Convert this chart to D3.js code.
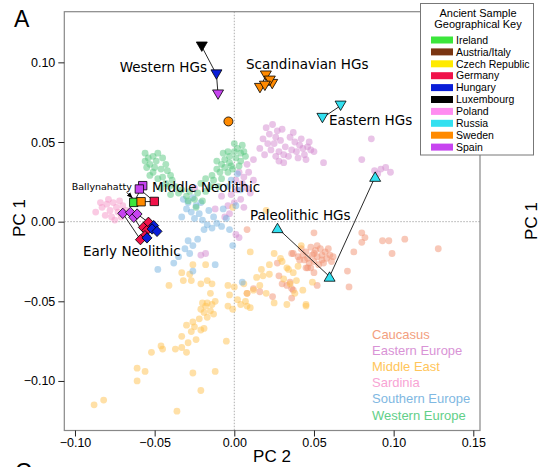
<!DOCTYPE html>
<html><head><meta charset="utf-8">
<script src="https://cdn.jsdelivr.net/npm/d3@7/dist/d3.min.js"></script>
<style>html,body{margin:0;padding:0;background:#fff;} svg{display:block;}</style>
</head><body>
<svg id="chart" width="538" height="467"></svg>
<script>
// ---------------- DATA ----------------
// modern populations: [PC2, PC1]
const caucasus = [[0.042,-0.017],[0.045,-0.019],[0.048,-0.016],[0.051,-0.018],[0.054,-0.017],[0.057,-0.019],[0.060,-0.021],[0.043,-0.021],[0.046,-0.023],[0.049,-0.021],[0.052,-0.022],[0.055,-0.024],[0.058,-0.023],[0.061,-0.025],[0.047,-0.026],[0.050,-0.025],[0.053,-0.027],[0.056,-0.026],[0.044,-0.024],[0.040,-0.022],[0.050,-0.020],[0.059,-0.017],[0.052,-0.015],[0.055,-0.021],[0.048,-0.029],[0.062,-0.022],
[0.050,-0.007],[0.080,-0.007],[0.082,-0.010],[0.080,-0.013],[0.093,-0.012],[0.097,-0.012],[0.107,-0.011],[0.099,-0.020],[0.128,-0.017],[0.075,-0.019],[0.071,-0.031],[0.072,-0.041],[0.052,-0.040],[0.050,-0.032],[0.046,-0.029],[0.036,-0.048],[0.033,-0.040],[0.036,-0.042],[0.036,-0.020],[0.041,-0.024],[0.008,-0.005],[0.027,-0.026],[0.037,-0.020],[0.012,-0.042],[0.008,-0.045],[0.030,-0.039],[0.045,-0.029],[0.035,-0.038],[0.037,-0.043],[0.024,-0.047],[0.016,-0.044],[0.028,-0.034]];
const easternEurope = [[0.020,0.059],[0.024,0.061],[0.027,0.057],[0.022,0.055],[0.026,0.053],[0.030,0.058],[0.018,0.052],[0.021,0.049],[0.025,0.049],[0.029,0.051],[0.016,0.046],[0.023,0.045],[0.028,0.044],[0.032,0.047],[0.019,0.042],[0.026,0.041],[0.031,0.042],
[0.035,0.053],[0.038,0.050],[0.041,0.048],[0.036,0.045],[0.039,0.044],[0.043,0.046],[0.046,0.047],[0.044,0.042],[0.040,0.040],[0.048,0.045],[0.037,0.056],[0.042,0.052],[0.034,0.041],[0.047,0.050],[0.031,0.037],[0.045,0.039],[0.028,0.038],[0.050,0.044],
[0.056,0.037],[0.080,0.039],[0.086,0.052],[0.088,0.032],[0.092,0.033],[0.095,0.034],[0.098,0.031],[0.090,0.030],[0.012,0.039],[0.008,0.036],
[0.003,0.031],[0.006,0.028],[0.001,0.026],[0.005,0.024],[0.008,0.021],[0.002,0.020],[-0.002,0.017],[0.004,0.014],[0.000,0.012],[-0.004,0.010],[0.006,0.009],[0.010,0.018],[0.012,0.026],[-0.003,0.005],[0.001,-0.008],[0.003,-0.010],[-0.006,0.003],[-0.008,0.016],[-0.025,0.021],[-0.012,0.008],[0.009,0.031],[-0.021,-0.021],[-0.018,-0.020]];
const middleEast = [[-0.088,-0.115],[-0.082,-0.112],[-0.061,-0.092],[-0.056,-0.094],[-0.061,-0.100],[-0.052,-0.082],[-0.046,-0.078],[-0.045,-0.080],[-0.037,-0.080],[-0.033,-0.079],[-0.030,-0.082],[-0.036,-0.119],[-0.026,-0.095],[-0.021,-0.106],[-0.012,-0.094],[-0.005,-0.075],
[-0.029,-0.076],[-0.024,-0.074],[-0.033,-0.072],[-0.027,-0.069],[-0.021,-0.068],[-0.019,-0.067],[-0.030,-0.065],[-0.026,-0.063],[-0.022,-0.061],[-0.017,-0.060],[-0.019,-0.057],[-0.015,-0.056],[-0.021,-0.055],[-0.018,-0.053],[-0.014,-0.052],[-0.017,-0.051],[-0.012,-0.050],[-0.020,-0.051],[-0.013,-0.058],[-0.025,-0.066],
[-0.041,-0.040],[-0.033,-0.032],[-0.028,-0.033],[-0.032,-0.037],[-0.027,-0.037],[-0.021,-0.039],[-0.018,-0.027],[-0.014,-0.039],[-0.017,-0.037],[-0.015,-0.045],[-0.026,-0.027],
[-0.004,-0.053],[-0.001,-0.055],[0.004,-0.052],[0.008,-0.053],[0.010,-0.054],[0.007,-0.050],[0.002,-0.049],[-0.003,-0.046],[-0.004,-0.040],[0.000,-0.041],[0.006,-0.039],[0.008,-0.045],[0.012,-0.043],[0.016,-0.040],[0.014,-0.035],[0.018,-0.034],[0.022,-0.033],[0.017,-0.030],[0.022,-0.027],[0.029,-0.023],[0.025,-0.020],[0.033,-0.029],[0.037,-0.032],[0.039,-0.037],[0.035,-0.039],[0.045,-0.052],[0.020,-0.045],[0.025,-0.051],[0.033,-0.052],[0.010,-0.019],
[0.030,-0.025],[0.034,-0.030],[0.038,-0.045],[0.049,-0.038],[0.043,-0.043],[0.045,-0.053],[0.042,-0.015],[0.031,-0.036],[0.040,-0.028],[0.020,0.007],[-0.001,0.009]];
const sardinia = [[-0.087,0.006],[-0.083,0.009],[-0.080,0.011],[-0.078,0.007],[-0.076,0.012],[-0.074,0.009],[-0.081,0.004],[-0.077,0.003],[-0.073,0.006],[-0.072,0.013],[-0.079,0.014],[-0.075,0.001],[-0.070,0.010],[-0.084,0.012],[-0.068,0.007],[-0.071,0.003]];
const southernEurope = [[-0.032,0.014],[-0.029,0.012],[-0.026,0.015],[-0.030,0.008],[-0.027,0.006],[-0.024,0.010],[-0.021,0.012],[-0.022,0.005],[-0.025,0.002],[-0.020,0.001],[-0.017,-0.002],[-0.014,-0.004],[-0.011,-0.001],[-0.008,-0.003],[-0.005,0.002],[-0.019,-0.005],[-0.013,0.003],[-0.003,-0.005],[-0.029,-0.012],[-0.026,-0.015],[-0.023,-0.011],[-0.031,-0.017],[-0.028,-0.020],[-0.035,-0.022],[-0.038,-0.026],[-0.048,-0.030],[-0.026,-0.031],[-0.012,-0.027],[0.005,-0.038],[-0.002,0.026],[0.002,0.030],[-0.004,0.022],[0.004,0.020],[0.001,0.010],[-0.001,-0.015],[-0.007,0.008],[-0.016,0.007],[-0.033,0.003]];
const westernEurope = [[-0.056,0.043],[-0.054,0.040],[-0.051,0.041],[-0.049,0.038],[-0.053,0.036],[-0.056,0.038],[-0.048,0.043],[-0.045,0.040],[-0.050,0.034],[-0.046,0.033],[-0.043,0.036],[-0.055,0.034],[-0.051,0.031],[-0.042,0.032],[-0.040,0.029],[-0.045,0.028],[-0.048,0.027],[-0.043,0.024],[-0.039,0.026],[-0.041,0.022],[-0.037,0.022],[-0.046,0.021],[-0.035,0.018],[-0.040,0.017],[-0.053,0.029],
[-0.033,0.020],[-0.030,0.016],[-0.028,0.019],[-0.025,0.014],[-0.023,0.018],[-0.020,0.013],[-0.024,0.009],[-0.029,0.013],[-0.018,0.019],[-0.015,0.022],[-0.018,0.027],[-0.021,0.024],
[-0.014,0.029],[-0.011,0.033],[-0.009,0.031],[-0.013,0.026],[-0.008,0.036],[-0.006,0.039],[-0.003,0.041],[0.000,0.044],[0.002,0.046],[0.004,0.043],[0.001,0.040],[-0.003,0.037],[-0.006,0.034],[-0.004,0.031],[-0.001,0.033],[0.004,0.038],[0.006,0.044],[0.007,0.041],[-0.008,0.027],[-0.010,0.022],[0.000,0.049],[-0.004,0.044],[0.005,0.048],[-0.011,0.038],[-0.002,0.035],[0.003,0.035],[-0.007,0.043]];

const modernNames = ["Caucasus","Eastern Europe","Middle East","Sardinia","Southern Europe","Western Europe"];
const modernSets = [caucasus, easternEurope, middleEast, sardinia, southernEurope, westernEurope];

// ancient samples: [country, PC2, PC1]
const westernHGs = [["Luxembourg",-0.0204,0.1099],["Hungary",-0.0112,0.0924],["Spain",-0.0102,0.0798]];
const scandinavianHGs = [["Sweden",0.0198,0.0917],["Sweden",0.0161,0.0839],["Sweden",0.0238,0.0864],["Sweden",0.0223,0.0885],["Sweden",0.0192,0.0853]];
const easternHGs = [["Russia",0.0667,0.0728],["Russia",0.0553,0.0651]];
const paleolithicHGs = [["Russia",0.0271,-0.0040],["Russia",0.0598,-0.0345],["Russia",0.0884,0.0282]];
const middleNeolithic = [["Spain",-0.0575,0.0226],["Spain",-0.0596,0.0205],["Ireland",-0.0631,0.0121],["Sweden",-0.0585,0.0125],["Germany",-0.0502,0.0127]];
const earlyNeolithic = [["Spain",-0.0700,0.0052],["Spain",-0.0652,0.0058],["Spain",-0.0631,0.0027],["Spain",-0.0610,0.0048],
  ["Germany",-0.0539,-0.0004],["Germany",-0.0571,-0.0036],["Germany",-0.0550,-0.0056],["Germany",-0.0561,-0.0088],["Germany",-0.0589,-0.0113],
  ["Hungary",-0.0506,-0.0025],["Hungary",-0.0516,-0.0046],["Hungary",-0.0485,-0.0061],["Hungary",-0.0548,-0.0102]];
const otherSwedish = [["Sweden",-0.0037,0.0629]];

// sample links (index pairs)
const westernLinks = [[0,1],[1,2]];
const scandLinks = [[0,1],[1,2],[2,3],[4,1]];
const easternLinks = [[0,1]];
const paleoLinks = [[0,1],[1,2]];
const middleLinks = [[2,0],[1,4],[2,3],[3,4]];
const earlyLinks = [[0,8],[2,12],[3,4]];

const keyCountries = ["Ireland","Austria/Italy","Czech Republic","Germany","Hungary","Luxembourg","Poland","Russia","Sweden","Spain"];
const xTicks = [-0.10,-0.05,0.00,0.05,0.10,0.15];
const yTicks = [-0.10,-0.05,0.00,0.05,0.10];

// ---------------- STYLE ----------------
const countryColor = {"Ireland":"#3be63b","Austria/Italy":"#7a3512","Czech Republic":"#ffea00","Germany":"#f0124a","Hungary":"#0a1ed8","Luxembourg":"#000000","Poland":"#ff8cf0","Russia":"#33e0f0","Sweden":"#ff8a00","Spain":"#c744f0"};
const modernFill = ["#f29272","#d48ad0","#ffc24f","#f596c8","#74b2e0","#58c880"];
const modernText = ["#f3a080","#d993d6","#ffc55a","#f8a4d4","#7fb8e2","#62cf88"];

const svg = d3.select("#chart");
const L=64.3, R=480, T=11.7, B=430.5;
const x = d3.scaleLinear().domain([-0.1067,0.1542]).range([L,R]);
const y = d3.scaleLinear().domain([-0.1311,0.1318]).range([B,T]);
const helv = "'Liberation Sans', Arial, Helvetica, sans-serif";
const dejavu = "'DejaVu Sans', sans-serif";

// zero lines
svg.append("line").attr("x1",x(0)).attr("x2",x(0)).attr("y1",T).attr("y2",B)
  .attr("stroke","#9a9a9a").attr("stroke-width",0.8).attr("stroke-dasharray","1.5,1.5");
svg.append("line").attr("x1",L).attr("x2",R).attr("y1",y(0)).attr("y2",y(0))
  .attr("stroke","#9a9a9a").attr("stroke-width",0.8).attr("stroke-dasharray","1.5,1.5");

// modern points
modernSets.forEach((set,i)=>{
  svg.append("g").selectAll("circle").data(set).join("circle")
    .attr("cx",d=>x(d[0])).attr("cy",d=>y(d[1])).attr("r",3.4)
    .attr("fill",modernFill[i]).attr("fill-opacity",0.5);
});

// links
function links(group, pairs){
  svg.append("g").selectAll("line").data(pairs).join("line")
    .attr("x1",p=>x(group[p[0]][1])).attr("y1",p=>y(group[p[0]][2]))
    .attr("x2",p=>x(group[p[1]][1])).attr("y2",p=>y(group[p[1]][2]))
    .attr("stroke","#111").attr("stroke-width",0.9);
}
links(westernHGs,westernLinks); links(scandinavianHGs,scandLinks); links(easternHGs,easternLinks);
links(paleolithicHGs,paleoLinks); links(middleNeolithic,middleLinks); links(earlyNeolithic,earlyLinks);

// marker shapes
const shapes = {
  down: "M-5.5,-4.6L5.5,-4.6L0,4.8Z",
  up: "M-5.5,4.6L5.5,4.6L0,-4.8Z",
  square: "M-4.2,-4.2H4.2V4.2H-4.2Z",
  diamond: "M0,-5.2L5,0L0,5.2L-5,0Z"
};
function markers(group, shape){
  svg.append("g").selectAll("path").data(group).join("path")
    .attr("d",shapes[shape]).attr("transform",d=>`translate(${x(d[1])},${y(d[2])})`)
    .attr("fill",d=>countryColor[d[0]]).attr("stroke","#000").attr("stroke-width",0.8);
}
markers(westernHGs,"down"); markers(scandinavianHGs,"down"); markers(easternHGs,"down");
markers(paleolithicHGs,"up"); markers(middleNeolithic,"square"); markers(earlyNeolithic,"diamond");
svg.append("g").selectAll("circle").data(otherSwedish).join("circle")
  .attr("cx",d=>x(d[1])).attr("cy",d=>y(d[2])).attr("r",4.5)
  .attr("fill",d=>countryColor[d[0]]).attr("stroke","#000").attr("stroke-width",0.8);

// group labels
const groupLabels = [
  ["Western HGs","end",207,72],["Scandinavian HGs","start",246,69],["Eastern HGs","start",329,125],
  ["Paleolithic HGs","start",250,220],["Middle Neolithic","start",152,192],["Early Neolithic","start",83,256]
];
svg.append("g").selectAll("text").data(groupLabels).join("text")
  .attr("x",d=>d[2]).attr("y",d=>d[3]).attr("text-anchor",d=>d[1])
  .attr("font-family",dejavu).attr("font-size",13.5).attr("fill","#000").text(d=>d[0]);

// Ballynahatty annotation
const bally = middleNeolithic[2];
const bx = x(bally[1]), by = y(bally[2]);
svg.append("text").attr("x",bx-2).attr("y",by-12.5).attr("text-anchor","end")
  .attr("font-family",dejavu).attr("font-size",9.5).text("Ballynahatty");
svg.append("defs").append("marker").attr("id","ah").attr("viewBox","0 0 10 10")
  .attr("refX",9).attr("refY",5).attr("markerWidth",6).attr("markerHeight",6).attr("orient","auto")
  .append("path").attr("d","M0,1L10,5L0,9Z").attr("fill","#000");
svg.append("line").attr("x1",bx-7).attr("y1",by-10).attr("x2",bx-1.5).attr("y2",by-4.5)
  .attr("stroke","#000").attr("stroke-width",1).attr("marker-end","url(#ah)");

// frame
svg.append("rect").attr("x",L).attr("y",T).attr("width",R-L).attr("height",B-T)
  .attr("fill","none").attr("stroke","#888").attr("stroke-width",1.2);

// axes
const fmt = d3.format(".2f");
const gx = svg.append("g").attr("transform",`translate(0,${B})`)
  .call(d3.axisBottom(x).tickValues(xTicks).tickFormat(fmt).tickSize(6).tickPadding(2));
const gy = svg.append("g").attr("transform",`translate(${L},0)`)
  .call(d3.axisLeft(y).tickValues(yTicks).tickFormat(fmt).tickSize(6).tickPadding(3));
[gx,gy].forEach(g=>{
  g.select(".domain").remove();
  g.selectAll(".tick line").attr("stroke","#222").attr("stroke-width",1);
  g.selectAll(".tick text").attr("font-family",helv).attr("font-size",12.5).attr("fill","#000");
});

// axis titles
svg.append("text").attr("x",272).attr("y",462).attr("text-anchor","middle")
  .attr("font-family",helv).attr("font-size",17).text("PC 2");
svg.append("text").attr("transform","translate(25,218) rotate(-90)").attr("text-anchor","middle")
  .attr("font-family",helv).attr("font-size",17).text("PC 1");
svg.append("text").attr("transform","translate(537,221) rotate(-90)").attr("text-anchor","middle")
  .attr("font-family",helv).attr("font-size",17).text("PC 1");
svg.append("text").attr("x",14).attr("y",27).attr("font-family",helv).attr("font-size",23).text("A");
svg.append("text").attr("x",15).attr("y",480).attr("font-family",helv).attr("font-size",23).text("C");

// modern legend
svg.append("g").selectAll("text").data(modernNames).join("text")
  .attr("x",372).attr("y",(d,i)=>338.5+i*16.2)
  .attr("font-family",helv).attr("font-size",13).attr("fill",(d,i)=>modernText[i]).text(d=>d);

// ancient key box
const kb = svg.append("g");
kb.append("rect").attr("x",420.5).attr("y",3.5).attr("width",113).attr("height",151.5)
  .attr("fill","#fff").attr("stroke","#777").attr("stroke-width",1);
kb.append("text").attr("x",478).attr("y",16.5).attr("text-anchor","middle")
  .attr("font-family",helv).attr("font-size",11).text("Ancient Sample");
kb.append("text").attr("x",478).attr("y",28.3).attr("text-anchor","middle")
  .attr("font-family",helv).attr("font-size",11).text("Geographical Key");
const rows = kb.selectAll("g.row").data(keyCountries).join("g").attr("class","row")
  .attr("transform",(d,i)=>`translate(0,${40+i*11.9})`);
rows.append("rect").attr("x",431).attr("y",-3.5).attr("width",22).attr("height",7)
  .attr("fill",d=>countryColor[d]);
rows.append("text").attr("x",456).attr("y",3.7).attr("font-family",helv).attr("font-size",10.5).text(d=>d);
</script>
</body></html>
